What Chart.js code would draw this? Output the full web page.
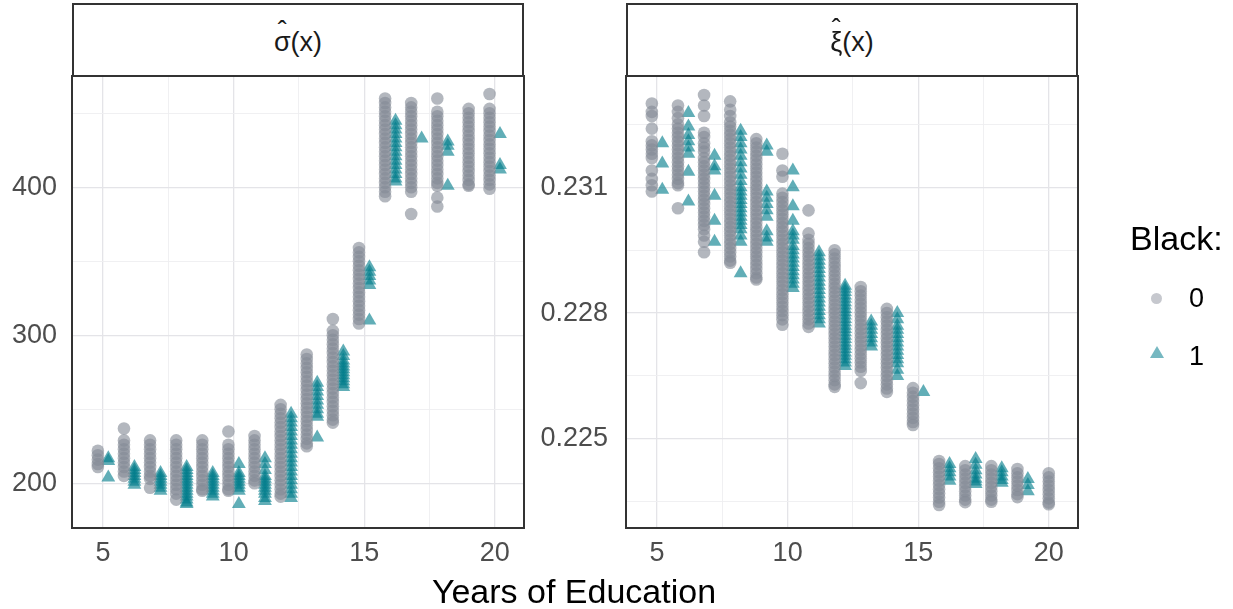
<!DOCTYPE html>
<html>
<head>
<meta charset="utf-8">
<script src="https://cdn.jsdelivr.net/npm/chart.js@4/dist/chart.umd.min.js"></script>
<style>
html,body{margin:0;padding:0;background:#fff;}
#wrap{position:relative;width:1233px;height:609px;overflow:hidden;font-family:"Liberation Sans",Arial,sans-serif;background:#fff;}
canvas{position:absolute;top:0;}
.strip{position:absolute;top:3px;height:74px;width:452px;box-sizing:border-box;border:2px solid #333;background:#fff;display:flex;align-items:center;justify-content:center;font-size:27px;line-height:27px;color:#1a1a1a;padding-top:4px;}
.hat{position:relative;display:inline-block;}
.caret{position:absolute;left:0;right:0;text-align:center;top:-11px;}
.abs{position:absolute;white-space:nowrap;}
</style>
</head>
<body>
<div id="wrap">
  <canvas id="sigmaChart" width="540" height="609" style="left:0px;width:540px;height:609px"></canvas>
  <canvas id="xiChart" width="693" height="609" style="left:540px;width:693px;height:609px"></canvas>
  <div class="strip" style="left:72px"><span class="hat">σ<span class="caret">ˆ</span></span>(x)</div>
  <div class="strip" style="left:626px"><span class="hat">ξ<span class="caret" style="top:-13px">ˆ</span></span>(x)</div>
  <div class="abs" style="left:0;width:1148px;text-align:center;top:574px;font-size:34px;line-height:34px;color:#000">Years of Education</div>
  <div class="abs" style="left:1130px;top:221px;font-size:34px;line-height:34px;color:#000">Black:</div>
  <div class="abs" style="left:1151px;top:293px;width:11px;height:11px;border-radius:50%;background:rgb(198,200,206)"></div>
  <div class="abs" style="left:1189px;top:285px;font-size:27px;line-height:27px;color:#000">0</div>
  <div class="abs" style="left:1150px;top:346px;width:14px;height:12px;clip-path:polygon(50% 0,100% 100%,0 100%);background:rgb(118,184,193)"></div>
  <div class="abs" style="left:1189px;top:343px;font-size:27px;line-height:27px;color:#000">1</div>
</div>
<script>
// ---------- tick / grid values ----------
const xTickLabels = [5, 10, 15, 20];
const xGridValues = [5, 7.5, 10, 12.5, 15, 17.5, 20];
const sigmaTickLabels = [200, 300, 400];
const sigmaGridValues = [200, 250, 300, 350, 400, 450];
const xiTickLabels = [0.225, 0.228, 0.231];
const xiGridValues = [0.2235, 0.225, 0.2265, 0.228, 0.2295, 0.231, 0.2325];

// ---------- sigma(x) panel : Black = 0 (circles) ----------
const sigmaX0 = [4.8, 5.8, 6.8, 7.8, 8.8, 9.8, 10.8, 11.8, 12.8, 13.8, 14.8, 15.8, 16.8, 17.8, 19.0, 19.8];
const sigmaY0 = [
  [222, 219, 216, 213, 211],
  [237, 229, 226, 223, 220, 217, 214, 211, 208, 205],
  [229, 226, 223, 220, 217, 214, 211, 208, 205, 203, 197],
  [229, 226, 223, 220, 217, 214, 211, 208, 205, 202, 199, 196, 193, 189],
  [229, 226, 223, 220, 217, 214, 211, 208, 205, 202, 199, 196, 195],
  [235, 226, 223, 220, 217, 214, 211, 208, 205, 202, 199, 196, 195],
  [232, 229, 226, 223, 220, 217, 214, 211, 208, 205, 202, 200],
  [253, 250, 247, 244, 241, 238, 235, 232, 229, 226, 223, 220, 217, 214, 211, 208, 205, 202, 199, 196, 193, 191],
  [287, 284, 281, 278, 275, 272, 269, 266, 263, 260, 257, 254, 251, 248, 245, 242, 239, 236, 233, 230, 227, 225],
  [311, 303, 300, 297, 294, 291, 288, 285, 282, 279, 276, 273, 270, 267, 264, 261, 258, 255, 252, 249, 246, 243, 241],
  [359, 356, 353, 350, 347, 344, 341, 338, 335, 332, 329, 326, 323, 320, 317, 314, 311, 308],
  [460, 457, 454, 451, 448, 445, 442, 439, 436, 433, 430, 427, 424, 421, 418, 415, 412, 409, 406, 403, 400, 397, 394],
  [457, 454, 451, 448, 445, 442, 439, 436, 433, 430, 427, 424, 421, 418, 415, 412, 409, 406, 403, 400, 397, 382],
  [460, 451, 448, 445, 442, 439, 436, 433, 430, 427, 424, 421, 418, 415, 412, 409, 406, 403, 401, 393, 387],
  [453, 450, 447, 444, 441, 438, 435, 432, 429, 426, 423, 420, 417, 414, 411, 408, 405, 402, 401],
  [463, 453, 450, 447, 444, 441, 438, 435, 432, 429, 426, 423, 420, 417, 414, 411, 408, 405, 402, 399]
];
// ---------- sigma(x) panel : Black = 1 (triangles) ----------
const sigmaX1 = [5.2, 6.2, 7.2, 8.2, 9.2, 10.2, 11.2, 12.2, 13.2, 14.2, 15.2, 16.2, 17.2, 18.2, 20.2];
const sigmaY1 = [
  [217, 215, 204],
  [211, 209, 207, 205, 203, 201, 199],
  [207, 205, 203, 201, 199, 197, 195],
  [211, 209, 207, 205, 203, 201, 199, 197, 195, 193, 191, 189, 187, 186],
  [207, 205, 203, 201, 199, 197, 195, 193, 191],
  [213, 207, 205, 203, 201, 199, 197, 195, 186],
  [217, 213, 209, 205, 203, 201, 199, 197, 195, 193, 190, 188],
  [247, 244, 241, 238, 235, 232, 229, 226, 223, 220, 217, 214, 211, 208, 205, 202, 199, 196, 193, 190],
  [268, 265, 262, 259, 256, 253, 250, 247, 245, 231],
  [289, 286, 283, 281, 279, 277, 275, 273, 271, 269, 267, 265],
  [346, 343, 340, 337, 334, 310],
  [445, 442, 439, 436, 433, 430, 427, 424, 421, 418, 415, 412, 409, 406, 404],
  [433],
  [431, 428, 424, 401],
  [436, 415, 412]
];

// ---------- xi(x) panel (values in thousandths) : Black = 0 ----------
const xiX0 = [4.8, 5.8, 6.8, 7.8, 8.8, 9.8, 10.8, 11.8, 12.8, 13.8, 14.8, 15.8, 16.8, 17.8, 18.8, 20.0];
const xiY0 = [
  [233.0, 232.8, 232.7, 232.4, 232.1, 232.0, 231.9, 231.8, 231.7, 231.4, 231.2, 231.05, 230.9],
  [232.95, 232.8, 232.65, 232.5, 232.4, 232.3, 232.2, 232.1, 232.0, 231.9, 231.8, 231.7, 231.6, 231.5, 231.4, 231.3, 231.2, 231.1, 231.05, 230.5],
  [233.2, 232.95, 232.7, 232.3, 232.2, 232.05, 231.95, 231.85, 231.7, 231.6, 231.5, 231.4, 231.3, 231.2, 231.1, 231.0, 230.9, 230.8, 230.7, 230.6, 230.5, 230.4, 230.3, 230.2, 230.1, 230.0, 229.85, 229.7, 229.45],
  [233.05, 232.85, 232.7, 232.55, 232.45, 232.35, 232.25, 232.15, 232.05, 231.95, 231.85, 231.75, 231.65, 231.55, 231.45, 231.35, 231.25, 231.15, 231.05, 230.95, 230.85, 230.75, 230.65, 230.55, 230.45, 230.35, 230.25, 230.15, 230.05, 229.95, 229.85, 229.75, 229.65, 229.55, 229.45, 229.35, 229.25, 229.2],
  [232.15, 232.05, 231.95, 231.85, 231.75, 231.65, 231.55, 231.45, 231.35, 231.25, 231.15, 231.05, 230.95, 230.85, 230.75, 230.65, 230.55, 230.45, 230.35, 230.25, 230.15, 230.05, 229.95, 229.85, 229.75, 229.65, 229.55, 229.45, 229.35, 229.25, 229.15, 229.05, 228.95, 228.85, 228.8],
  [231.8, 231.4, 231.25, 230.85, 230.75, 230.65, 230.55, 230.45, 230.35, 230.25, 230.15, 230.05, 229.95, 229.85, 229.75, 229.65, 229.55, 229.45, 229.35, 229.25, 229.15, 229.05, 228.95, 228.85, 228.75, 228.65, 228.55, 228.45, 228.35, 228.25, 228.15, 228.05, 227.95, 227.85, 227.72],
  [230.45, 229.9, 229.75, 229.65, 229.55, 229.45, 229.35, 229.25, 229.15, 229.05, 228.95, 228.85, 228.75, 228.65, 228.55, 228.45, 228.35, 228.25, 228.15, 228.05, 227.95, 227.85, 227.75, 227.67],
  [229.5, 229.4, 229.3, 229.2, 229.1, 229.0, 228.9, 228.8, 228.7, 228.6, 228.5, 228.4, 228.3, 228.2, 228.1, 228.0, 227.9, 227.8, 227.7, 227.6, 227.5, 227.4, 227.3, 227.2, 227.1, 227.0, 226.9, 226.8, 226.7, 226.6, 226.5, 226.4, 226.3, 226.24],
  [228.62, 228.52, 228.42, 228.32, 228.22, 228.12, 228.02, 227.92, 227.82, 227.72, 227.62, 227.52, 227.42, 227.32, 227.22, 227.12, 227.02, 226.92, 226.82, 226.72, 226.62, 226.33],
  [228.1, 228.0, 227.9, 227.8, 227.7, 227.6, 227.5, 227.4, 227.3, 227.2, 227.1, 227.0, 226.9, 226.8, 226.7, 226.6, 226.5, 226.4, 226.3, 226.2, 226.12],
  [226.21, 226.1, 226.0, 225.9, 225.8, 225.7, 225.6, 225.5, 225.4, 225.33],
  [224.47, 224.4, 224.3, 224.2, 224.1, 224.0, 223.9, 223.8, 223.7, 223.6, 223.5, 223.42],
  [224.35, 224.25, 224.15, 224.05, 223.95, 223.85, 223.75, 223.65, 223.55, 223.49],
  [224.35, 224.25, 224.15, 224.05, 223.95, 223.85, 223.75, 223.65, 223.55, 223.5],
  [224.28, 224.18, 224.08, 223.98, 223.88, 223.78, 223.68, 223.61],
  [224.18, 224.08, 223.98, 223.88, 223.78, 223.68, 223.58, 223.48, 223.44]
];
// ---------- xi(x) panel (values in thousandths) : Black = 1 ----------
const xiX1 = [5.2, 6.2, 7.2, 8.2, 9.2, 10.2, 11.2, 12.2, 13.2, 14.2, 15.2, 16.2, 17.2, 18.2, 19.2];
const xiY1 = [
  [232.05, 231.57, 230.94],
  [232.77, 232.45, 232.25, 232.1, 231.95, 231.8, 231.37, 230.66],
  [231.75, 231.5, 231.4, 230.8, 230.2, 229.7],
  [232.35, 232.2, 232.05, 231.9, 231.75, 231.6, 231.45, 231.3, 231.15, 231.0, 230.9, 230.8, 230.7, 230.6, 230.5, 230.4, 230.3, 230.2, 230.1, 230.0, 229.85, 229.7, 228.95],
  [232.0, 231.85, 230.9, 230.75, 230.6, 230.45, 230.3, 229.95, 229.8, 229.7],
  [231.4, 231.0, 230.55, 230.2, 229.95, 229.85, 229.75, 229.6, 229.5, 229.4, 229.3, 229.2, 229.1, 229.0, 228.9, 228.8, 228.7, 228.6],
  [229.45, 229.35, 229.25, 229.15, 229.05, 228.95, 228.85, 228.75, 228.65, 228.55, 228.45, 228.35, 228.25, 228.15, 228.05, 227.95, 227.85, 227.75],
  [228.65, 228.58, 228.5, 228.42, 228.34, 228.26, 228.18, 228.1, 228.02, 227.94, 227.86, 227.78, 227.7, 227.62, 227.54, 227.46, 227.38, 227.3, 227.22, 227.14, 227.06, 226.98, 226.9, 226.82, 226.74],
  [227.8, 227.7, 227.6, 227.5, 227.4, 227.3, 227.2],
  [228.0, 227.85, 227.7, 227.6, 227.5, 227.4, 227.3, 227.2, 227.1, 227.0, 226.9, 226.8, 226.65, 226.5],
  [226.12],
  [224.4, 224.3, 224.2, 224.1, 224.0],
  [224.52, 224.38, 224.25, 224.15, 224.05, 223.98, 223.92],
  [224.3, 224.2, 224.1, 224.02, 223.95],
  [224.04, 223.9, 223.75]
];

// ---------- build ----------
const FONT = '"Liberation Sans", Arial, sans-serif';
const GREY = 'rgba(133,138,150,0.62)';
const TEAL = 'rgba(0,125,138,0.62)';

function points(xs, ys, unit) {
  const out = [];
  xs.forEach((x, i) => ys[i].forEach(v => out.push({ x: x, y: v * unit })));
  return out;
}

const framePlugin = {
  id: 'frame',
  afterDraw(chart) {
    const a = chart.chartArea, ctx = chart.ctx;
    ctx.save();
    ctx.strokeStyle = '#333333';
    ctx.lineWidth = 2;
    ctx.strokeRect(a.left, a.top, a.right - a.left, a.bottom - a.top);
    ctx.restore();
  }
};

function gridStyle(labels) {
  return {
    drawTicks: false,
    color: c => (c.tick && labels.includes(c.tick.value)) ? '#e4e4e8' : '#eeeef1',
    lineWidth: c => (c.tick && labels.includes(c.tick.value)) ? 1.3 : 0.9
  };
}

function makeChart(id, ds0, ds1, yMin, yMax, yGrid, yLabels, yFmt, yWidth, yPad, padRight) {
  return new Chart(document.getElementById(id), {
    type: 'scatter',
    data: {
      datasets: [
        { label: '0', data: ds0, pointStyle: 'circle', pointRadius: 6.3, backgroundColor: GREY, borderWidth: 0, pointHoverRadius: 6.3 },
        { label: '1', data: ds1, pointStyle: 'triangle', pointRadius: 8, backgroundColor: TEAL, borderWidth: 0, pointHoverRadius: 8 }
      ]
    },
    options: {
      responsive: false,
      animation: false,
      devicePixelRatio: 1,
      events: [],
      layout: { padding: { top: 76, right: padRight, left: 0, bottom: 0 } },
      plugins: { legend: { display: false }, tooltip: { enabled: false }, title: { display: false } },
      scales: {
        x: {
          type: 'linear', position: 'bottom', min: 3.81, max: 21.12,
          afterBuildTicks: s => { s.ticks = xGridValues.map(v => ({ value: v })); },
          afterFit: s => { s.height = 81; },
          grid: gridStyle(xTickLabels),
          border: { display: false },
          ticks: {
            autoSkip: false, maxRotation: 0, padding: 9, color: '#4d4d4d',
            font: { family: FONT, size: 27 },
            callback: v => xTickLabels.includes(v) ? String(v) : ''
          }
        },
        y: {
          type: 'linear', position: 'left', min: yMin, max: yMax,
          afterBuildTicks: s => { s.ticks = yGrid.map(v => ({ value: v })); },
          afterFit: s => { s.width = yWidth; },
          grid: gridStyle(yLabels),
          border: { display: false },
          ticks: {
            autoSkip: false, padding: yPad, color: '#4d4d4d',
            font: { family: FONT, size: 27 },
            callback: v => yLabels.includes(v) ? yFmt(v) : ''
          }
        }
      }
    },
    plugins: [framePlugin]
  });
}

makeChart('sigmaChart', points(sigmaX0, sigmaY0, 1), points(sigmaX1, sigmaY1, 1),
  169.8, 475.2, sigmaGridValues, sigmaTickLabels, v => String(v), 72, 15, 16);
makeChart('xiChart', points(xiX0, xiY0, 0.001), points(xiX1, xiY1, 0.001),
  0.222873, 0.233655, xiGridValues, xiTickLabels, v => v.toFixed(3), 86, 18, 155);
</script>
</body>
</html>
